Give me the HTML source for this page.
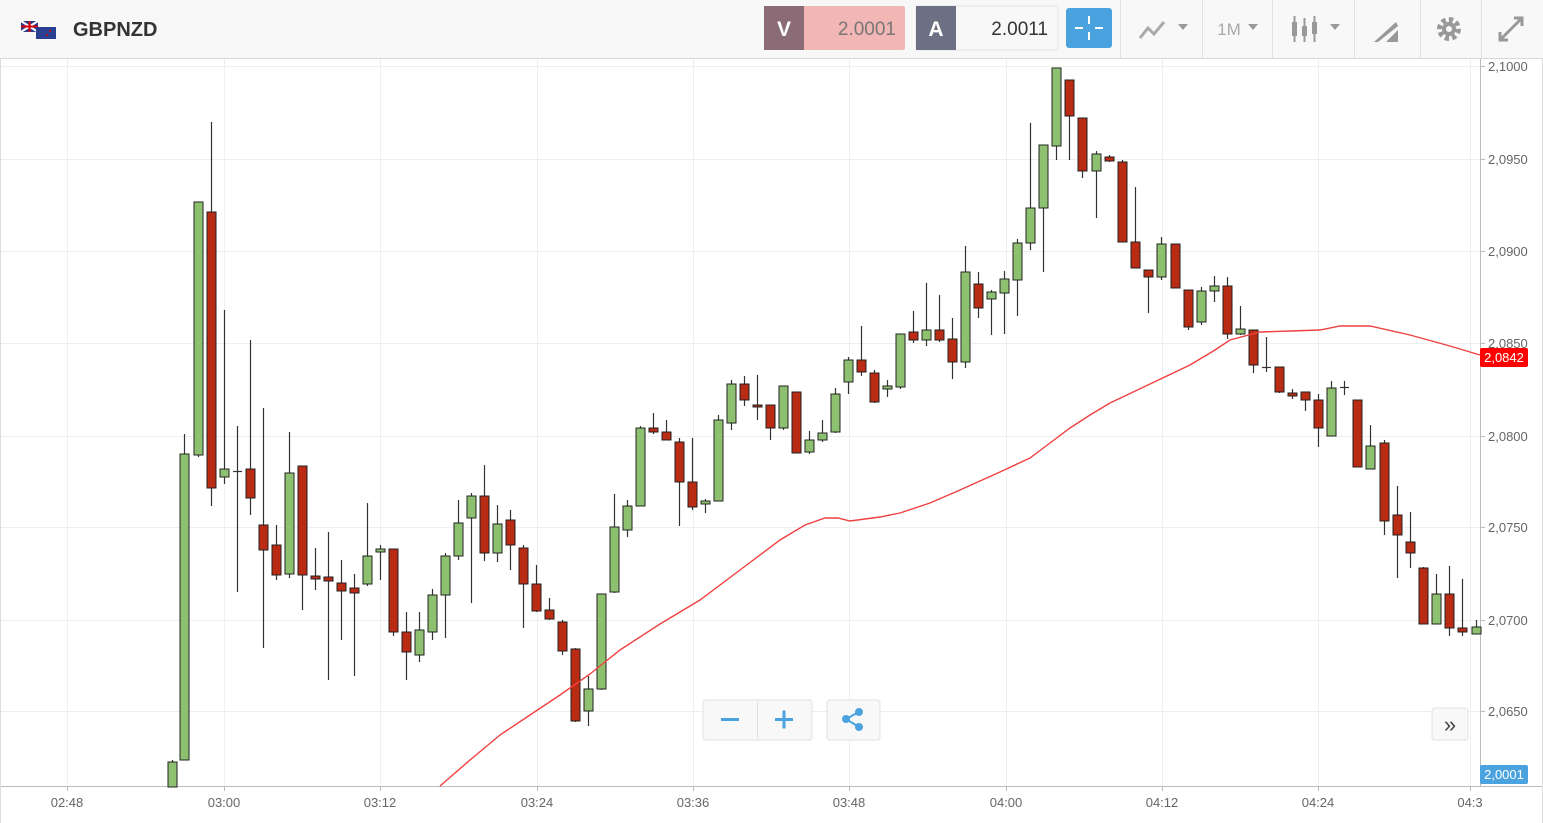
<!DOCTYPE html>
<html><head><meta charset="utf-8"><style>
html,body{margin:0;padding:0;width:1543px;height:823px;overflow:hidden;background:#fff;font-family:"Liberation Sans",sans-serif}
</style></head><body>
<svg id="s" width="1543" height="823" xmlns="http://www.w3.org/2000/svg" style="position:absolute;left:0;top:0">
<rect x="0" y="0" width="1543" height="58" fill="#f8f8f8"/>
<line x1="0" y1="58.5" x2="1543" y2="58.5" stroke="#d8d8d8"/>
<g id="grid" stroke="#efefef" stroke-width="1"></g>
<line x1="1480.5" y1="59" x2="1480.5" y2="786" stroke="#bbb"/>
<line x1="0" y1="786.5" x2="1543" y2="786.5" stroke="#bbb"/>
<line x1="0.5" y1="59" x2="0.5" y2="823" stroke="#ddd"/>
<line x1="1542.5" y1="59" x2="1542.5" y2="823" stroke="#ddd"/>
<g id="ylab" font-size="13" fill="#666"></g>
<g id="xlab" font-size="13" fill="#666"></g>
<g id="candles"></g>
<polyline fill="none" stroke="#f04040" stroke-width="1.4" points="440,786 470,760 500,735 530,715 560,695 590,674 620,650 660,624 700,600 740,570 780,540 805,525 825,518 838,518 850,521 880,517 900,513 930,503 960,490 1000,472 1030,458 1050,443 1070,428 1090,415 1110,403 1150,384 1190,365 1215,350 1230,340 1260,332 1290,331 1320,330 1340,326 1370,326 1410,335 1450,346 1480,355"/>
<rect x="1480" y="348" width="48" height="19" rx="2" fill="#f00"/>
<text x="1504" y="362" font-size="13" fill="#fff" text-anchor="middle">2,0842</text>
<rect x="1480" y="765" width="48" height="19" rx="2" fill="#4aa3df"/>
<text x="1504" y="779" font-size="13" fill="#fff" text-anchor="middle">2,0001</text>
<!-- zoom controls -->
<rect x="703" y="700" width="109" height="40" rx="3" fill="#f8f8f8" stroke="#e0e0e0"/>
<line x1="757.5" y1="702" x2="757.5" y2="738" stroke="#e0e0e0"/>
<rect x="721" y="718" width="18" height="3" fill="#4aa3df"/>
<rect x="775" y="718" width="18" height="3" fill="#4aa3df"/><rect x="782.5" y="710.5" width="3" height="18" fill="#4aa3df"/>
<rect x="827" y="700" width="53" height="40" rx="3" fill="#f8f8f8" stroke="#e0e0e0"/>
<g fill="#4aa3df" stroke="#4aa3df" stroke-width="2"><circle cx="859" cy="712" r="3"/><circle cx="846" cy="719" r="3"/><circle cx="859" cy="727" r="3"/><line x1="846" y1="719" x2="859" y2="712"/><line x1="846" y1="719" x2="859" y2="727"/></g>
<rect x="1432" y="708" width="36" height="32" rx="3" fill="#f8f8f8" stroke="#e0e0e0"/>
<text x="1450" y="732" font-size="22" fill="#444" text-anchor="middle">»</text>
<!-- header -->
<rect x="21" y="21" width="17" height="11" fill="#2a3f8f"/><path d="M21 21 L38 32 M38 21 L21 32" stroke="#fff" stroke-width="2"/><path d="M29.5 21 V32 M21 26.5 H38" stroke="#d00" stroke-width="2"/>
<rect x="36" y="27" width="20" height="12" fill="#2a3f8f"/><circle cx="50" cy="31" r="1" fill="#d00"/><circle cx="47" cy="35" r="1" fill="#d00"/>
<text x="73" y="36" font-size="20" font-weight="bold" fill="#333">GBPNZD</text>
<rect x="764" y="6" width="141" height="44" rx="2" fill="#f2b6b5"/>
<rect x="764" y="6" width="40" height="44" fill="#8a6b76"/>
<text x="784" y="36" font-size="21" font-weight="bold" fill="#fff" text-anchor="middle">V</text>
<text x="896" y="35" font-size="19" fill="#777" text-anchor="end">2.0001</text>
<rect x="916" y="6" width="142" height="44" rx="2" fill="#f8f8f8" stroke="#e4e4e4"/>
<rect x="916" y="6" width="40" height="44" fill="#6b7182"/>
<text x="936" y="36" font-size="21" font-weight="bold" fill="#fff" text-anchor="middle">A</text>
<text x="1048" y="35" font-size="19" fill="#333" text-anchor="end">2.0011</text>
<rect x="1066" y="8" width="46" height="40" rx="3" fill="#4aa3df"/>
<path d="M1089 16 V24 M1089 32 V40 M1075 28 H1083 M1095 28 H1103" stroke="#fff" stroke-width="2"/>
<g stroke="#e2e2e2"><line x1="1120.5" y1="0" x2="1120.5" y2="58"/><line x1="1202.5" y1="0" x2="1202.5" y2="58"/><line x1="1272.5" y1="0" x2="1272.5" y2="58"/><line x1="1354.5" y1="0" x2="1354.5" y2="58"/><line x1="1420.5" y1="0" x2="1420.5" y2="58"/><line x1="1481.5" y1="0" x2="1481.5" y2="58"/></g>
<path d="M1140 38 L1148 28 L1154 34 L1164 22" stroke="#aaa" stroke-width="3" fill="none"/>
<path d="M1178 24 L1188 24 L1183 30 Z" fill="#999"/>
<text x="1229" y="35" font-size="17" fill="#aaa" text-anchor="middle">1M</text>
<path d="M1248 24 L1258 24 L1253 30 Z" fill="#999"/>
<g fill="#999"><rect x="1292" y="22" width="5" height="14"/><rect x="1293.5" y="16" width="2" height="26"/><rect x="1302" y="26" width="5" height="10"/><rect x="1303.5" y="18" width="2" height="24"/><rect x="1312" y="22" width="5" height="12"/><rect x="1313.5" y="16" width="2" height="26"/></g>
<path d="M1330 24 L1340 24 L1335 30 Z" fill="#999"/>
<path d="M1374 42 L1396 22 L1398 26 L1378 42 Z M1386 42 L1398 30 L1398 42 Z" fill="#999"/>
<circle cx="1449" cy="29" r="9" fill="none" stroke="#999" stroke-width="6" stroke-dasharray="4 3"/><circle cx="1449" cy="29" r="7" fill="#999"/><circle cx="1449" cy="29" r="3" fill="#f8f8f8"/>
<path d="M1500 40 L1522 18 M1514 18 H1522 V26 M1500 32 V40 H1508" stroke="#999" stroke-width="3" fill="none"/>
</svg>
<script>
var NS="http://www.w3.org/2000/svg";
function el(p,t,a,txt){var e=document.createElementNS(NS,t);for(var k in a)e.setAttribute(k,a[k]);if(txt)e.textContent=txt;document.getElementById(p).appendChild(e);}
var ys=[[66,"2,1000"],[159,"2,0950"],[251,"2,0900"],[343,"2,0850"],[436,"2,0800"],[527,"2,0750"],[620,"2,0700"],[711,"2,0650"]];
ys.forEach(function(v){el("grid","line",{x1:0,y1:v[0]+.5,x2:1480,y2:v[0]+.5});el("ylab","line",{x1:1480,y1:v[0]+.5,x2:1485,y2:v[0]+.5,stroke:"#bbb"});el("ylab","text",{x:1488,y:v[0]+5},v[1]);});
var xs=[[67,"02:48"],[224,"03:00"],[380,"03:12"],[537,"03:24"],[693,"03:36"],[849,"03:48"],[1006,"04:00"],[1162,"04:12"],[1318,"04:24"],[1470,"04:3"]];
xs.forEach(function(v){el("grid","line",{x1:v[0]+.5,y1:59,x2:v[0]+.5,y2:786});el("xlab","line",{x1:v[0]+.5,y1:786,x2:v[0]+.5,y2:791,stroke:"#bbb"});el("xlab","text",{x:v[0],y:807,"text-anchor":"middle"},v[1]);});
var C=[[172,'G',762,787,760,787],[184,'G',454,760,434,760],[198,'G',202,455,202,457],[211,'R',212,488,122,506],[224,'G',469,477,310,484],[237,'D',471,472,426,592],[250,'R',469,498,340,515],[263,'R',525,550,408,648],[276,'R',545,575,525,580],[289,'G',473,574,432,578],[302,'R',466,575,466,610],[315,'R',576,579,548,590],[328,'R',577,581,532,680],[341,'R',583,591,560,640],[354,'R',588,593,574,676],[367,'G',556,584,503,586],[380,'G',549,552,545,580],[393,'R',549,632,549,636],[406,'R',632,652,612,680],[419,'G',630,655,612,662],[432,'G',595,632,589,640],[445,'G',556,595,553,638],[458,'G',523,556,500,560],[471,'G',496,518,493,603],[484,'R',496,553,465,561],[497,'G',524,553,505,562],[510,'R',520,545,510,570],[523,'R',548,584,545,628],[536,'R',584,611,565,612],[549,'R',610,619,598,620],[562,'R',622,651,620,655],[575,'R',649,721,648,722],[588,'G',689,711,676,726],[601,'G',594,689,594,690],[614,'G',527,592,494,593],[627,'G',506,530,500,537],[640,'G',428,506,426,506],[653,'R',428,432,413,434],[666,'R',432,440,420,440],[679,'R',442,482,438,526],[692,'R',482,507,438,510],[705,'G',501,504,499,513],[718,'G',420,501,415,501],[731,'G',384,423,380,430],[744,'R',384,400,376,406],[757,'R',405,407,375,420],[770,'R',405,428,405,440],[783,'G',386,428,386,430],[796,'R',392,453,392,453],[809,'G',440,452,431,454],[822,'G',433,440,420,442],[835,'G',394,432,388,433],[848,'G',360,382,357,394],[861,'R',360,372,326,376],[874,'R',373,402,370,403],[887,'G',386,389,380,397],[900,'G',334,387,334,389],[913,'R',332,340,311,343],[926,'G',330,340,283,346],[939,'R',330,340,295,342],[952,'R',339,362,318,379],[965,'G',272,362,246,368],[978,'R',284,308,272,318],[991,'G',292,299,290,335],[1004,'G',279,293,271,334],[1017,'G',243,280,239,316],[1030,'G',208,243,123,250],[1043,'G',145,208,145,272],[1056,'G',68,146,68,160],[1069,'R',80,116,80,160],[1082,'R',118,171,118,178],[1096,'G',154,171,151,218],[1109,'R',157,161,155,162],[1122,'R',162,242,160,242],[1135,'R',242,268,187,268],[1148,'R',270,277,270,313],[1161,'G',244,277,237,280],[1175,'R',244,288,244,288],[1188,'R',290,327,290,330],[1201,'G',291,322,287,325],[1214,'G',286,291,276,302],[1227,'R',286,334,277,339],[1240,'G',329,334,306,335],[1253,'R',330,365,330,373],[1266,'D',367,368,337,372],[1279,'R',367,392,367,393],[1292,'R',393,396,389,399],[1305,'R',392,400,392,411],[1318,'R',400,428,394,447],[1331,'G',388,436,381,436],[1344,'D',387,388,381,395],[1357,'R',400,467,400,467],[1370,'G',446,469,425,469],[1384,'R',443,521,440,535],[1397,'R',515,535,486,578],[1410,'R',542,553,512,568],[1423,'R',568,624,567,624],[1436,'G',594,624,574,624],[1449,'R',594,628,566,636],[1462,'R',628,632,579,636],[1476,'G',627,634,620,634]];
C.forEach(function(c){var x=c[0];el("candles","line",{x1:x+.5,y1:c[4],x2:x+.5,y2:c[5],stroke:"#333","stroke-width":1.2});
 if(c[1]=='D'){el("candles","line",{x1:x-4,y1:c[2]+.5,x2:x+5,y2:c[2]+.5,stroke:"#333","stroke-width":1.2});return;}
 el("candles","rect",{x:x-4,y:c[2],width:9,height:Math.max(2,c[3]-c[2]),fill:c[1]=='G'?"#8dc170":"#b92b12",stroke:"#222","stroke-width":1});});
</script>
</body></html>
